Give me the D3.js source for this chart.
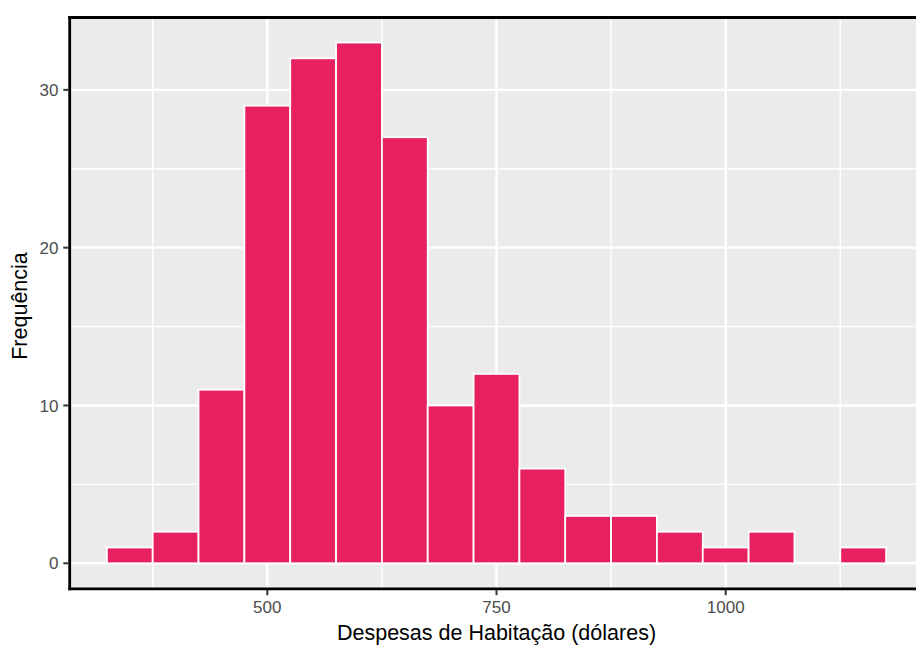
<!DOCTYPE html>
<html><head><meta charset="utf-8">
<script src="https://cdn.jsdelivr.net/npm/d3@7"></script>
<style>body{margin:0;background:#fff}svg{display:block}</style>
</head><body>
<svg id="c" width="916" height="646"></svg>
<script>
const binStarts = [325,375,425,475,525,575,625,675,725,775,825,875,925,975,1025,1075,1125];
const counts    = [1,2,11,29,32,33,27,10,12,6,3,3,2,1,2,0,1];
const binWidth = 50;
const xMajor = [500,750,1000];
const xMinor = [375,625,875,1125];
const yMajor = [0,10,20,30];
const yMinor = [5,15,25];
const xTitle = "Despesas de Habitação (dólares)";
const yTitle = "Frequência";

const svg = d3.select("#c");
const x = d3.scaleLinear().domain([282.5,1217.5]).range([67.9,925.1]);
const y = d3.scaleLinear().domain([-1.65,34.65]).range([589.3,16.5]);
const font = "'Liberation Sans', Arial, sans-serif";

svg.append("defs").append("clipPath").attr("id","pc")
  .append("rect").attr("x",68).attr("y",16.5).attr("width",916-68).attr("height",589.3-16.5);
const panel = svg.append("g").attr("clip-path","url(#pc)");
panel.append("rect").attr("x",68).attr("y",16.5).attr("width",916-68).attr("height",589.3-16.5).attr("fill","#EBEBEB");

panel.selectAll(".gxm").data(xMinor).join("line")
  .attr("x1",d=>x(d)).attr("x2",d=>x(d)).attr("y1",16).attr("y2",590)
  .attr("stroke","#fff").attr("stroke-width",1.4);
panel.selectAll(".gym").data(yMinor).join("line")
  .attr("y1",d=>y(d)).attr("y2",d=>y(d)).attr("x1",68).attr("x2",916)
  .attr("stroke","#fff").attr("stroke-width",1.4);
panel.selectAll(".gxM").data(xMajor).join("line")
  .attr("x1",d=>x(d)).attr("x2",d=>x(d)).attr("y1",16).attr("y2",590)
  .attr("stroke","#fff").attr("stroke-width",2.4);
panel.selectAll(".gyM").data(yMajor).join("line")
  .attr("y1",d=>y(d)).attr("y2",d=>y(d)).attr("x1",68).attr("x2",916)
  .attr("stroke","#fff").attr("stroke-width",2.4);

const bars = binStarts.map((s,i)=>({s, c:counts[i]})).filter(d=>d.c>0);
panel.selectAll(".bar").data(bars).join("rect")
  .attr("x",d=>x(d.s)).attr("width",d=>x(d.s+binWidth)-x(d.s))
  .attr("y",d=>y(d.c)).attr("height",d=>y(0)-y(d.c))
  .attr("fill","#E7215F").attr("stroke","#fff").attr("stroke-width",1.8);

// axis lines
svg.append("line").attr("x1",69.7).attr("x2",69.7).attr("y1",16).attr("y2",590.2).attr("stroke","#000").attr("stroke-width",2.8);
svg.append("line").attr("x1",68.3).attr("x2",916).attr("y1",17.5).attr("y2",17.5).attr("stroke","#000").attr("stroke-width",2.8);
svg.append("line").attr("x1",68.3).attr("x2",916).attr("y1",588.8).attr("y2",588.8).attr("stroke","#000").attr("stroke-width",2.8);

// ticks
svg.selectAll(".ty").data(yMajor).join("line")
  .attr("x1",63.3).attr("x2",68.5).attr("y1",d=>y(d)).attr("y2",d=>y(d)).attr("stroke","#333").attr("stroke-width",2);
svg.selectAll(".tyl").data(yMajor).join("text")
  .attr("x",58.5).attr("y",d=>y(d)).attr("dy","0.36em").attr("text-anchor","end")
  .attr("font-family",font).attr("font-size",17).attr("fill","#4D4D4D").text(d=>d);
svg.selectAll(".tx").data(xMajor).join("line")
  .attr("x1",d=>x(d)).attr("x2",d=>x(d)).attr("y1",590).attr("y2",595.2).attr("stroke","#333").attr("stroke-width",2);
svg.selectAll(".txl").data(xMajor).join("text")
  .attr("x",d=>x(d)).attr("y",613.3).attr("text-anchor","middle")
  .attr("font-family",font).attr("font-size",17).attr("fill","#4D4D4D").text(d=>d);

svg.append("text").attr("x",x(750)).attr("y",640).attr("text-anchor","middle")
  .attr("font-family",font).attr("font-size",21.5).attr("fill","#000").text(xTitle);
svg.append("text").attr("transform",`translate(27,306) rotate(-90)`).attr("text-anchor","middle")
  .attr("font-family",font).attr("font-size",21.5).attr("fill","#000").text(yTitle);
</script>
</body></html>
